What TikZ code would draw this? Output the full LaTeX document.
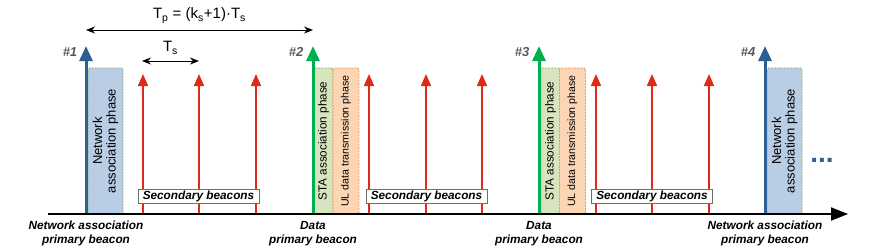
\documentclass[tikz,border=0pt]{standalone}
\usepackage{fontspec}
\setmainfont{Liberation Sans}
\usetikzlibrary{arrows.meta}
\definecolor{beaconblue}{RGB}{44,96,146}
\definecolor{beacongreen}{RGB}{0,176,80}
\definecolor{beaconred}{RGB}{222,42,22}
\definecolor{netfill}{RGB}{185,205,229}
\definecolor{stafill}{RGB}{215,228,189}
\definecolor{ulfill}{RGB}{252,213,181}
\definecolor{greenedge}{RGB}{150,170,100}
\definecolor{orangeedge}{RGB}{247,150,70}
\definecolor{hashgray}{RGB}{89,89,89}
\definecolor{secedge}{RGB}{110,110,110}
\begin{document}
\begin{tikzpicture}[x=1pt,y=1pt,
  mainbeacon/.style={line width=3pt},
  redbeacon/.style={draw=beaconred,line width=1.6pt,-{Triangle[length=12pt,width=10pt]}},
  phasebox/.style={rotate=90,dash pattern=on 2pt off 1.2pt,line width=0.9pt,rounded corners=1.5pt,
     inner sep=0pt,align=center,minimum width=146pt},
  netbox/.style={phasebox,draw=greenedge,fill=netfill,minimum height=35pt,
     font=\fontsize{13}{13.5}\selectfont},
  stabox/.style={phasebox,draw=greenedge,fill=stafill,minimum height=19pt,
     font=\fontsize{11.7}{13}\selectfont},
  ulbox/.style={phasebox,draw=orangeedge,fill=ulfill,minimum height=26pt,
     font=\fontsize{10.6}{12}\selectfont},
  secbox/.style={draw=secedge,fill=white,line width=0.8pt,inner sep=0pt,
     minimum width=121pt,minimum height=14pt,font=\fontsize{11.8}{13}\selectfont\bfseries\itshape},
  hashlbl/.style={text=hashgray,font=\fontsize{13}{15}\selectfont\bfseries\itshape},
  bottomlbl/.style={align=center,font=\fontsize{11.8}{13.5}\selectfont\bfseries\itshape},
  period/.style={black,line width=0.9pt,{Stealth[length=9pt,width=7pt]}-{Stealth[length=9pt,width=7pt]}}
]
\useasboundingbox (0,0) rectangle (872,250);

% phase boxes
\node[netbox] (net1) at (105.5,109) {Network\\association phase};
\node[stabox] (sta2) at (323.5,109) {STA association phase};
\node[ulbox]  (ul2)  at (346,109) {UL data transmission phase};
\node[stabox] (sta3) at (550.5,109) {STA association phase};
\node[ulbox]  (ul3)  at (572.5,109) {UL data transmission phase};
\node[netbox] (net4) at (784.5,109) {Network\\association phase};

% primary beacons
\coordinate (p1b) at (86,36);  \coordinate (p1t) at (86,204);
\coordinate (p2b) at (313,36); \coordinate (p2t) at (313,204);
\coordinate (p3b) at (539,36); \coordinate (p3t) at (539,204);
\coordinate (p4b) at (765,36); \coordinate (p4t) at (765,204);
\draw[mainbeacon,draw=beaconblue,-{Triangle[length=15pt,width=13pt,fill=beaconblue]}] (p1b) -- (p1t);
\draw[mainbeacon,draw=beacongreen,-{Triangle[length=15pt,width=13pt,fill=beacongreen]}] (p2b) -- (p2t);
\draw[mainbeacon,draw=beacongreen,-{Triangle[length=15pt,width=13pt,fill=beacongreen]}] (p3b) -- (p3t);
\draw[mainbeacon,draw=beaconblue,-{Triangle[length=15pt,width=13pt,fill=beaconblue]}] (p4b) -- (p4t);

% secondary beacons
\foreach \n/\x in {a/143,b/199,c/256,d/369,e/426,f/482,g/596,h/652,i/709}{
  \coordinate (s\n b) at (\x,36);
  \coordinate (s\n t) at (\x,176);
  \draw[redbeacon] (s\n b) -- (s\n t);
}

% secondary beacon labels
\node[secbox] (sec1) at (198.5,54) {Secondary beacons};
\node[secbox] (sec2) at (426.5,54) {Secondary beacons};
\node[secbox] (sec3) at (652,54) {Secondary beacons};

% time axis
\coordinate (ax0) at (48,36);
\coordinate (ax1) at (848,36);
\draw[line width=2pt,-{Triangle[length=17pt,width=13pt]}] (ax0) -- (ax1);

% periods
\coordinate (tpl) at (86,220); \coordinate (tpr) at (313,220);
\draw[period] (tpl) -- (tpr) node[midway,above=3pt,font=\fontsize{15}{17}\selectfont] (tp) {T\textsubscript{p} = (k\textsubscript{s}+1)·T\textsubscript{s}};
\coordinate (tsl) at (142,189); \coordinate (tsr) at (199,189);
\draw[period] (tsl) -- (tsr) node[midway,above=3pt,font=\fontsize{15}{17}\selectfont] (ts) {T\textsubscript{s}};

% beacon numbers
\node[hashlbl] (h1) at (70,198) {\#1};
\node[hashlbl] (h2) at (296,198) {\#2};
\node[hashlbl] (h3) at (522,198) {\#3};
\node[hashlbl] (h4) at (748,198) {\#4};

% continuation dots
\node[text=beaconblue,font=\fontsize{28}{28}\selectfont\bfseries] (dots) at (822,90) {...};

% bottom labels
\node[bottomlbl] (l1) at (86,16.5) {Network association\\primary beacon};
\node[bottomlbl] (l2) at (313,16.5) {Data\\primary beacon};
\node[bottomlbl] (l3) at (539,16.5) {Data\\primary beacon};
\node[bottomlbl] (l4) at (765,16.5) {Network association\\primary beacon};
\end{tikzpicture}
\end{document}
